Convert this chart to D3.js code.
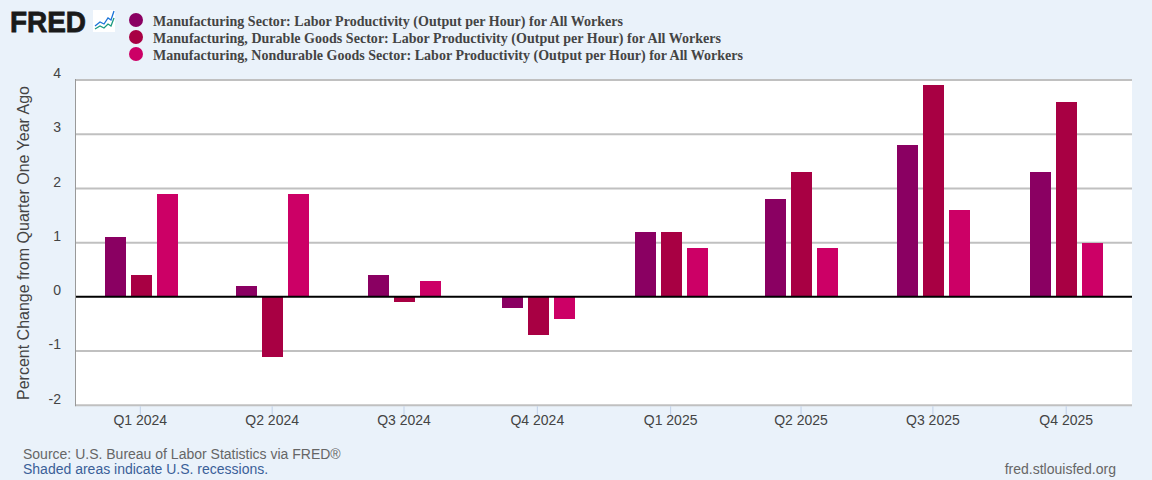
<!DOCTYPE html>
<html>
<head>
<meta charset="utf-8">
<script src="https://cdn.jsdelivr.net/npm/d3@7"></script>
<style>
  html, body { margin: 0; padding: 0; background: #eaf2fa; }
  svg { display: block; font-family: "Liberation Sans", Arial, sans-serif; }
</style>
</head>
<body>
<svg id="chart" width="1152" height="480"></svg>
<script>
const quarters = ["Q1 2024", "Q2 2024", "Q3 2024", "Q4 2024", "Q1 2025", "Q2 2025", "Q3 2025", "Q4 2025"];
const quarterDates = ["2024-01-01", "2024-04-01", "2024-07-01", "2024-10-01", "2025-01-01", "2025-04-01", "2025-07-01", "2025-10-01"];
const seriesNames = [
  "Manufacturing Sector: Labor Productivity (Output per Hour) for All Workers",
  "Manufacturing, Durable Goods Sector: Labor Productivity (Output per Hour) for All Workers",
  "Manufacturing, Nondurable Goods Sector: Labor Productivity (Output per Hour) for All Workers"
];
const manufacturing = [1.1, 0.2, 0.4, -0.2, 1.2, 1.8, 2.8, 2.3];
const durable = [0.4, -1.1, -0.1, -0.7, 1.2, 2.3, 3.9, 3.6];
const nondurable = [1.9, 1.9, 0.3, -0.4, 0.9, 0.9, 1.6, 1.0];
const seriesValues = [manufacturing, durable, nondurable];
const seriesColors = ["#8a0062", "#a80043", "#cc0066"];
const yTicks = [-2, -1, 0, 1, 2, 3, 4];

const svg = d3.select("#chart");
const plot = {left: 76, right: 1132, top: 80, bottom: 405.3};

// quarters are not evenly spaced, the axis is a real time axis
const dates = quarterDates.map(d => new Date(d + "T00:00:00Z"));
const x = d3.scaleUtc().domain([dates[0], dates[dates.length - 1]]).range([140.3, 1066.2]);
const y = d3.scaleLinear().domain([-2, 4]).range([plot.bottom, plot.top]);
const inner = d3.scaleBand().domain([0, 1, 2]).range([-35.8, 37.2]).paddingInner(5 / 26);

svg.append("rect")
  .attr("x", plot.left).attr("y", plot.top)
  .attr("width", plot.right - plot.left)
  .attr("height", plot.bottom - plot.top)
  .attr("fill", "#fff");

// gridlines
svg.append("g").selectAll("line").data(yTicks.filter(d => d !== 0)).join("line")
  .attr("x1", plot.left).attr("x2", plot.right)
  .attr("y1", d => y(d)).attr("y2", d => y(d))
  .attr("stroke", "#c0c0c0").attr("stroke-width", 2);

// y axis line and x ticks
svg.append("line")
  .attr("x1", plot.left - 0.5).attr("x2", plot.left - 0.5)
  .attr("y1", plot.top - 1).attr("y2", plot.bottom + 1)
  .attr("stroke", "#999");

svg.append("g").selectAll("line").data(dates).join("line")
  .attr("x1", d => x(d)).attr("x2", d => x(d))
  .attr("y1", plot.bottom + 1).attr("y2", plot.bottom + 10)
  .attr("stroke", "#c0d0e8");

// bars, the group start is snapped so the three bars keep an even step
seriesValues.forEach((vals, i) => {
  svg.append("g").selectAll("rect").data(vals).join("rect")
    .attr("x", (d, j) => Math.round(x(dates[j]) + inner(0)) + Math.round(inner.step()) * i)
    .attr("width", Math.round(inner.bandwidth()))
    .attr("y", d => Math.round(Math.min(y(d), y(0))))
    .attr("height", d => Math.round(Math.abs(y(d) - y(0))))
    .attr("fill", seriesColors[i]);
});

// zero line
svg.append("line")
  .attr("x1", plot.left).attr("x2", plot.right)
  .attr("y1", y(0)).attr("y2", y(0))
  .attr("stroke", "#000").attr("stroke-width", 2);

// tick labels
svg.append("g").selectAll("text").data(yTicks).join("text")
  .attr("x", 61).attr("y", d => y(d) - 5.5)
  .attr("text-anchor", "end").attr("dominant-baseline", "middle")
  .attr("font-size", 14).attr("fill", "#444")
  .text(d => d);

svg.append("g").selectAll("text").data(quarters).join("text")
  .attr("x", (d, i) => x(dates[i])).attr("y", 425)
  .attr("text-anchor", "middle")
  .attr("font-size", 14).attr("fill", "#444")
  .text(d => d);

svg.append("text")
  .attr("transform", "translate(29,243) rotate(-90)")
  .attr("text-anchor", "middle")
  .attr("font-size", 16).attr("fill", "#444")
  .text("Percent Change from Quarter One Year Ago");

// legend
seriesNames.forEach((name, i) => {
  const ly = 20 + i * 17;
  svg.append("circle").attr("cx", 136).attr("cy", ly).attr("r", 7).attr("fill", seriesColors[i]);
  svg.append("text").attr("x", 153).attr("y", ly + 5.5)
    .attr("font-family", "'Liberation Serif', serif").attr("font-weight", "bold")
    .attr("font-size", 14).attr("textLength", [470, 568, 590][i]).attr("fill", "#444").text(name);
});

// logo
svg.append("text").attr("x", 10).attr("y", 32)
  .attr("font-weight", "bold").attr("font-size", 30)
  .attr("textLength", 76).attr("lengthAdjust", "spacingAndGlyphs")
  .attr("fill", "#1a1a1a").attr("stroke", "#1a1a1a").attr("stroke-width", 0.8)
  .text("FRED");
const logoX = [95, 100, 104, 108, 111, 114];
const logoBlue = [26, 22, 24, 18, 20, 11];
const logoGreen = [29, 26, 28, 24, 26, 18];
svg.append("rect").attr("x", 93).attr("y", 10).attr("width", 22).attr("height", 22).attr("fill", "#fff");
const logoLine = d3.line().x((d, i) => logoX[i]).y(d => d);
svg.append("path").attr("d", logoLine(logoBlue)).attr("fill", "none").attr("stroke", "#1a73d8").attr("stroke-width", 1.3);
svg.append("path").attr("d", logoLine(logoGreen)).attr("fill", "none").attr("stroke", "#1a9a80").attr("stroke-width", 1.3);

// footer
svg.append("text").attr("x", 23).attr("y", 459).attr("font-size", 14).attr("fill", "#666")
  .text("Source: U.S. Bureau of Labor Statistics via FRED®");
svg.append("text").attr("x", 23).attr("y", 474).attr("font-size", 14).attr("fill", "#3a6098")
  .text("Shaded areas indicate U.S. recessions.");
svg.append("text").attr("x", 1116).attr("y", 474).attr("text-anchor", "end").attr("font-size", 14).attr("fill", "#666")
  .text("fred.stlouisfed.org");
</script>
</body>
</html>
